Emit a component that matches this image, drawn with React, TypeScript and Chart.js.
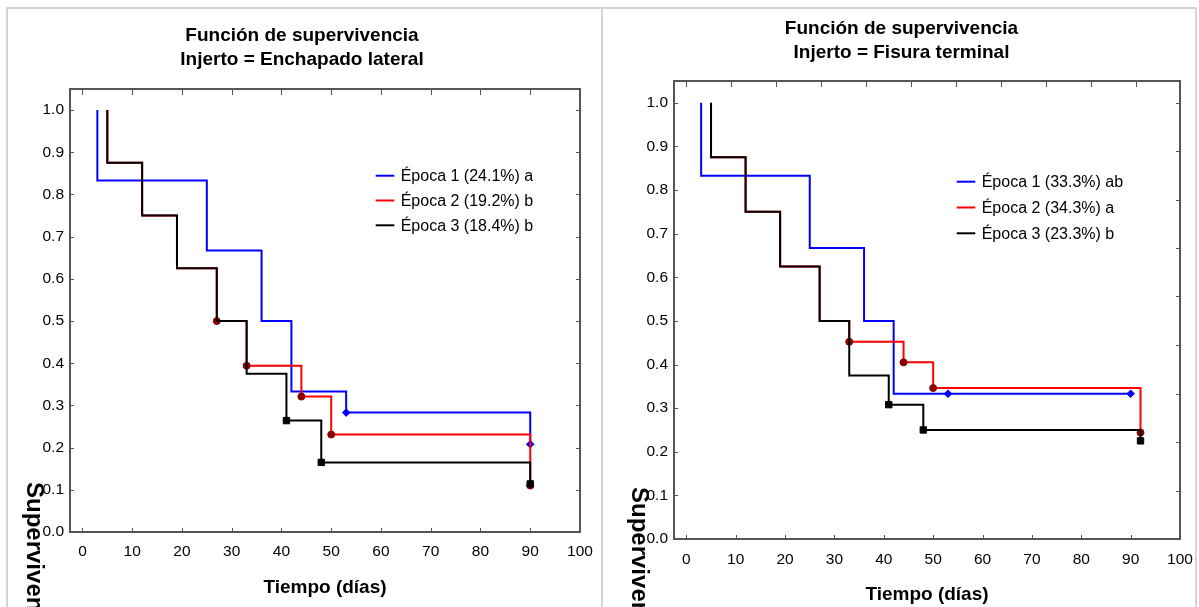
import React, { useEffect, useRef } from "react";
import { Chart, registerables } from "chart.js";

Chart.register(...registerables);

const FONT = '"Liberation Sans", Arial, Helvetica, sans-serif';

// ---------- tick values ----------
const xTickValues = [0, 10, 20, 30, 40, 50, 60, 70, 80, 90, 100];
const yTickValues = [0, 0.1, 0.2, 0.3, 0.4, 0.5, 0.6, 0.7, 0.8, 0.9, 1.0];
const leftTopTicks = [0, 10, 20, 30, 40, 50, 60, 70, 80, 90];
const leftRightTicks = [0, 0.1, 0.2, 0.3, 0.4, 0.5, 0.6, 0.7, 0.8, 0.9, 1.0];
const rightTopTicks = [0, 9.1, 18.2, 27.3, 36.4, 45.5, 54.6, 63.7, 72.8, 81.9, 91];
const rightRightTicks = [0, 0.111, 0.222, 0.333, 0.444, 0.556, 0.667, 0.778, 0.889, 1.0];

// ---------- left panel: Enchapado lateral ----------
const leftTitle = ["Función de supervivencia", "Injerto = Enchapado lateral"];
const leftLabels = ["Época 1 (24.1%) a", "Época 2 (19.2%) b", "Época 3 (18.4%) b"];
const leftTimes1 = [3, 3, 25, 36, 42, 53, 90];
const leftSurv1 = [1.0, 0.833, 0.667, 0.5, 0.333, 0.283, 0.208];
const leftMarks1 = [5, 6];
const leftTimes2 = [5, 5, 12, 19, 27, 33, 44, 50, 90];
const leftSurv2 = [1.0, 0.875, 0.75, 0.625, 0.5, 0.394, 0.321, 0.231, 0.11];
const leftMarks2 = [4, 5, 6, 7, 8];
const leftTimes3 = [5, 5, 12, 19, 27, 33, 41, 48, 90];
const leftSurv3 = [1.0, 0.875, 0.75, 0.625, 0.5, 0.375, 0.264, 0.165, 0.114];
const leftMarks3 = [6, 7, 8];

// ---------- right panel: Fisura terminal ----------
const rightTitle = ["Función de supervivencia", "Injerto = Fisura terminal"];
const rightLabels = ["Época 1 (33.3%) ab", "Época 2 (34.3%) a", "Época 3 (23.3%) b"];
const rightTimes1 = [3, 3, 25, 36, 42, 53, 90];
const rightSurv1 = [1.0, 0.833, 0.667, 0.5, 0.333, 0.333, 0.333];
const rightMarks1 = [5, 6];
const rightTimes2 = [5, 5, 12, 19, 27, 33, 44, 50, 92];
const rightSurv2 = [1.0, 0.875, 0.75, 0.625, 0.5, 0.452, 0.405, 0.346, 0.244];
const rightMarks2 = [5, 6, 7, 8];
const rightTimes3 = [5, 5, 12, 19, 27, 33, 41, 48, 92];
const rightSurv3 = [1.0, 0.875, 0.75, 0.625, 0.5, 0.375, 0.308, 0.25, 0.225];
const rightMarks3 = [6, 7, 8];

const seriesColors = ["#0000ff", "#ff0000", "#000000"];
const markerColors = ["#0000ff", "#8b0000", "#000000"];
const markerStyles = ["rectRot", "circle", "rect"];
const markerRadii = [3.8, 3.5, 4.5];

type PanelCfg = {
  title: string[];
  labels: string[];
  times: number[][];
  surv: number[][];
  marks: number[][];
  topTicks: number[];
  rightTicks: number[];
  canvasW: number;
  yW: number;
  xH: number;
  padRight: number;
  titlePadTop: number;
  titlePadBottom: number;
  tickPadX: number;
  xTitlePadBottom: number;
  legendDx: number;
  legendDy: number;
  legendSpacing: number;
  yTitleDx: number;
  yTitleDy: number;
};

const leftPanel: PanelCfg = {
  title: leftTitle,
  labels: leftLabels,
  times: [leftTimes1, leftTimes2, leftTimes3],
  surv: [leftSurv1, leftSurv2, leftSurv3],
  marks: [leftMarks1, leftMarks2, leftMarks3],
  topTicks: leftTopTicks,
  rightTicks: leftRightTicks,
  canvasW: 600,
  yW: 68,
  xH: 75,
  padRight: 22,
  titlePadTop: 24,
  titlePadBottom: 17,
  tickPadX: 10,
  xTitlePadBottom: 8,
  legendDx: 305.7,
  legendDy: 86.7,
  legendSpacing: 24.8,
  yTitleDx: -43,
  yTitleDy: -50,
};

const rightPanel: PanelCfg = {
  title: rightTitle,
  labels: rightLabels,
  times: [rightTimes1, rightTimes2, rightTimes3],
  surv: [rightSurv1, rightSurv2, rightSurv3],
  marks: [rightMarks1, rightMarks2, rightMarks3],
  topTicks: rightTopTicks,
  rightTicks: rightRightTicks,
  canvasW: 595,
  yW: 70,
  xH: 68,
  padRight: 19,
  titlePadTop: 17,
  titlePadBottom: 16,
  tickPadX: 11,
  xTitlePadBottom: 1,
  legendDx: 282.7,
  legendDy: 100.7,
  legendSpacing: 25.8,
  yTitleDx: -42,
  yTitleDy: -52,
};

function makeDecor(p: PanelCfg) {
  return {
    id: "decor",
    beforeDatasetsDraw(chart: any) {
      const { ctx, chartArea: a, scales } = chart;
      const xs = scales.x;
      const ys = scales.y;
      ctx.save();
      ctx.strokeStyle = "#555555";
      ctx.lineWidth = 2;
      ctx.strokeRect(a.left, a.top, a.right - a.left, a.bottom - a.top);
      ctx.lineWidth = 1;
      ctx.beginPath();
      xTickValues.forEach((v) => {
        const px = Math.round(xs.getPixelForValue(v)) + 0.5;
        ctx.moveTo(px, a.bottom);
        ctx.lineTo(px, a.bottom - 4);
      });
      p.topTicks.forEach((v) => {
        const px = Math.round(xs.getPixelForValue(v)) + 0.5;
        ctx.moveTo(px, a.top);
        ctx.lineTo(px, a.top + 6);
      });
      yTickValues.forEach((v) => {
        const py = Math.round(ys.getPixelForValue(v)) + 0.5;
        ctx.moveTo(a.left, py);
        ctx.lineTo(a.left + 4, py);
      });
      p.rightTicks.forEach((v) => {
        const py = Math.round(ys.getPixelForValue(v)) + 0.5;
        ctx.moveTo(a.right, py);
        ctx.lineTo(a.right - 4, py);
      });
      ctx.stroke();
      ctx.restore();
    },
    afterDraw(chart: any) {
      const { ctx, chartArea: a } = chart;
      ctx.save();
      // legend inside plot
      ctx.font = `16px ${FONT}`;
      ctx.textBaseline = "middle";
      ctx.textAlign = "left";
      chart.data.datasets.forEach((ds: any, i: number) => {
        const lx = a.left + p.legendDx;
        const ly = a.top + p.legendDy + i * p.legendSpacing;
        ctx.strokeStyle = ds.borderColor;
        ctx.lineWidth = 2;
        ctx.beginPath();
        ctx.moveTo(lx, ly);
        ctx.lineTo(lx + 18.6, ly);
        ctx.stroke();
        ctx.fillStyle = "#000";
        ctx.fillText(ds.label, lx + 25, ly + 1);
      });
      // rotated y-axis title (reads top to bottom)
      ctx.translate(a.left + p.yTitleDx, a.bottom + p.yTitleDy);
      ctx.rotate(Math.PI / 2);
      ctx.font = `bold 24px ${FONT}`;
      ctx.textBaseline = "alphabetic";
      ctx.fillStyle = "#000";
      ctx.fillText("Supervivencia", 0, 0);
      ctx.restore();
    },
  };
}

function buildConfig(p: PanelCfg): any {
  const datasets = p.times.map((t, i) => ({
    label: p.labels[i],
    data: t.map((x, j) => ({ x, y: p.surv[i][j] })),
    borderColor: seriesColors[i],
    backgroundColor: seriesColors[i],
    borderWidth: 2,
    stepped: "before",
    fill: false,
    tension: 0,
    pointStyle: markerStyles[i],
    pointRadius: (ctx: any) => (p.marks[i].includes(ctx.dataIndex) ? markerRadii[i] : 0),
    pointHoverRadius: 0,
    pointBackgroundColor: markerColors[i],
    pointBorderColor: markerColors[i],
    pointBorderWidth: 1,
    order: 3 - i,
  }));
  return {
    type: "line",
    data: { datasets },
    plugins: [makeDecor(p)],
    options: {
      animation: false,
      responsive: false,
      devicePixelRatio: 1,
      events: [],
      layout: { padding: 0, autoPadding: false },
      plugins: {
        legend: { display: false },
        tooltip: { enabled: false },
        title: {
          display: true,
          text: p.title,
          color: "#000",
          font: { family: FONT, size: 19, weight: "bold", lineHeight: 24 / 19 },
          padding: { top: p.titlePadTop, bottom: p.titlePadBottom },
        },
      },
      scales: {
        x: {
          type: "linear",
          min: -2.5,
          max: 100,
          afterBuildTicks: (s: any) => {
            s.ticks = xTickValues.map((v) => ({ value: v }));
          },
          ticks: {
            color: "#000",
            font: { family: FONT, size: 15.5 },
            padding: p.tickPadX,
            autoSkip: false,
            maxRotation: 0,
            minRotation: 0,
            callback: (v: any) => String(v),
          },
          grid: { display: false, drawTicks: false },
          border: { display: false },
          title: {
            display: true,
            text: "Tiempo (días)",
            color: "#000",
            font: { family: FONT, size: 19, weight: "bold" },
            padding: { top: 0, bottom: p.xTitlePadBottom },
          },
          afterFit: (s: any) => {
            s.height = p.xH;
            s.paddingLeft = 0;
            s.paddingRight = p.padRight;
          },
        },
        y: {
          type: "linear",
          min: 0,
          max: 1.05,
          afterBuildTicks: (s: any) => {
            s.ticks = yTickValues.map((v) => ({ value: v }));
          },
          ticks: {
            color: "#000",
            font: { family: FONT, size: 15.5 },
            padding: 6,
            callback: (v: any) => Number(v).toFixed(1),
          },
          grid: { display: false, drawTicks: false },
          border: { display: false },
          afterFit: (s: any) => {
            s.width = p.yW;
            s.paddingTop = 0;
            s.paddingBottom = 0;
          },
        },
      },
    },
  };
}

function PanelChart({ cfg, left }: { cfg: PanelCfg; left: number }) {
  const ref = useRef<HTMLCanvasElement>(null);
  useEffect(() => {
    if (!ref.current) return;
    const chart = new Chart(ref.current, buildConfig(cfg));
    return () => chart.destroy();
  }, [cfg]);
  return (
    <canvas
      ref={ref}
      width={cfg.canvasW}
      height={607}
      style={{ position: "absolute", left, top: 0, width: cfg.canvasW, height: 607 }}
    />
  );
}

const borderStyle = "2px solid #d4d4d4";

export default function App() {
  return (
    <div
      style={{
        position: "fixed",
        left: 0,
        top: 0,
        width: 1199,
        height: 607,
        overflow: "hidden",
        background: "#ffffff",
      }}
    >
      <div
        style={{
          position: "absolute",
          left: 6,
          top: 7,
          width: 597,
          height: 700,
          boxSizing: "border-box",
          borderLeft: borderStyle,
          borderTop: borderStyle,
          borderRight: borderStyle,
        }}
      />
      <div
        style={{
          position: "absolute",
          left: 601,
          top: 7,
          width: 596,
          height: 700,
          boxSizing: "border-box",
          borderLeft: borderStyle,
          borderTop: borderStyle,
          borderRight: borderStyle,
        }}
      />
      <PanelChart cfg={leftPanel} left={2} />
      <PanelChart cfg={rightPanel} left={604} />
    </div>
  );
}
